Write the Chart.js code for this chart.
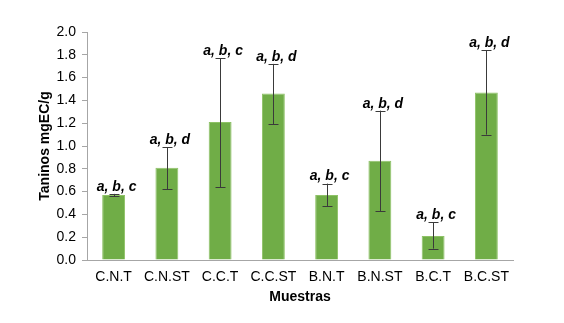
<!DOCTYPE html>
<html>
<head>
<meta charset="utf-8">
<script src="https://cdn.jsdelivr.net/npm/chart.js@4/dist/chart.umd.min.js"></script>
<style>
  html, body { margin: 0; padding: 0; background: #fff; }
  #wrap { width: 564px; height: 323px; }
</style>
</head>
<body>
<div id="wrap"><canvas id="c" width="564" height="323"></canvas></div>
<script>
const categories = ["C.N.T", "C.N.ST", "C.C.T", "C.C.ST", "B.N.T", "B.N.ST", "B.C.T", "B.C.ST"];
const values = [0.57, 0.81, 1.21, 1.46, 0.57, 0.87, 0.21, 1.47];
const errLow = [0.56, 0.62, 0.64, 1.19, 0.47, 0.43, 0.10, 1.10];
const errHigh = [0.58, 0.99, 1.77, 1.72, 0.67, 1.31, 0.33, 1.84];
const groupLabels = ["a, b, c", "a, b, d", "a, b, c", "a, b, d", "a, b, c", "a, b, d", "a, b, c", "a, b, d"];
const yTicks = [0, 0.2, 0.4, 0.6, 0.8, 1.0, 1.2, 1.4, 1.6, 1.8, 2.0];

const FONT = '"Liberation Sans", Arial, sans-serif';

const errorBarPlugin = {
  id: 'errorBars',
  afterDatasetsDraw(chart) {
    const ctx = chart.ctx;
    const meta = chart.getDatasetMeta(0);
    const y = chart.scales.y;
    ctx.save();
    meta.data.forEach((bar, i) => {
      const x = Math.round(bar.x) + 0.5;
      const yl = y.getPixelForValue(errLow[i]);
      const yh = y.getPixelForValue(errHigh[i]);
      ctx.strokeStyle = '#3a3a3a';
      ctx.lineWidth = 1;
      ctx.beginPath();
      ctx.moveTo(x, yh); ctx.lineTo(x, yl);
      ctx.moveTo(x - 5, Math.round(yh) + 0.5); ctx.lineTo(x + 5, Math.round(yh) + 0.5);
      ctx.moveTo(x - 5, Math.round(yl) + 0.5); ctx.lineTo(x + 5, Math.round(yl) + 0.5);
      ctx.stroke();
      ctx.fillStyle = '#000';
      ctx.font = 'italic bold 14px ' + FONT;
      ctx.textAlign = 'center';
      ctx.textBaseline = 'middle';
      ctx.fillText(groupLabels[i], bar.x + 3, yh - 7);
    });
    ctx.restore();
  }
};

new Chart(document.getElementById('c'), {
  type: 'bar',
  data: {
    labels: categories,
    datasets: [{
      data: values,
      backgroundColor: '#70AD47',
      borderColor: '#8EC266',
      borderWidth: 1,
      barPercentage: 0.43,
      categoryPercentage: 1.0
    }]
  },
  options: {
    responsive: false,
    animation: false,
    devicePixelRatio: 1,
    layout: { padding: { left: 0, right: 51, top: 32, bottom: 0 } },
    plugins: { legend: { display: false }, tooltip: { enabled: false } },
    scales: {
      x: {
        grid: { display: false },
        border: { display: true, color: '#a6a6a6', width: 1 },
        ticks: { color: '#000', font: { family: FONT, size: 14 }, padding: 1, maxRotation: 0, autoSkip: false },
        title: { display: true, text: 'Muestras', color: '#000', font: { family: FONT, size: 14, weight: 'bold' }, padding: { top: 0, bottom: 17.6 } },
        afterFit(s) { s.height = 63; }
      },
      y: {
        min: 0, max: 2.0,
        afterBuildTicks(s) { s.ticks = yTicks.map(v => ({ value: v })); },
        grid: { display: true, drawOnChartArea: false, drawTicks: true, tickLength: 5, color: '#a6a6a6' },
        border: { display: true, color: '#a6a6a6', width: 1 },
        ticks: { color: '#000', font: { family: FONT, size: 14 }, padding: 6, callback: v => Number(v).toFixed(1) },
        title: { display: true, text: 'Taninos mgEC/g', color: '#000', font: { family: FONT, size: 14, weight: 'bold' }, padding: { top: 36.6, bottom: 0 } },
        afterFit(s) { s.width = 87; }
      }
    }
  },
  plugins: [errorBarPlugin]
});
</script>
</body>
</html>
